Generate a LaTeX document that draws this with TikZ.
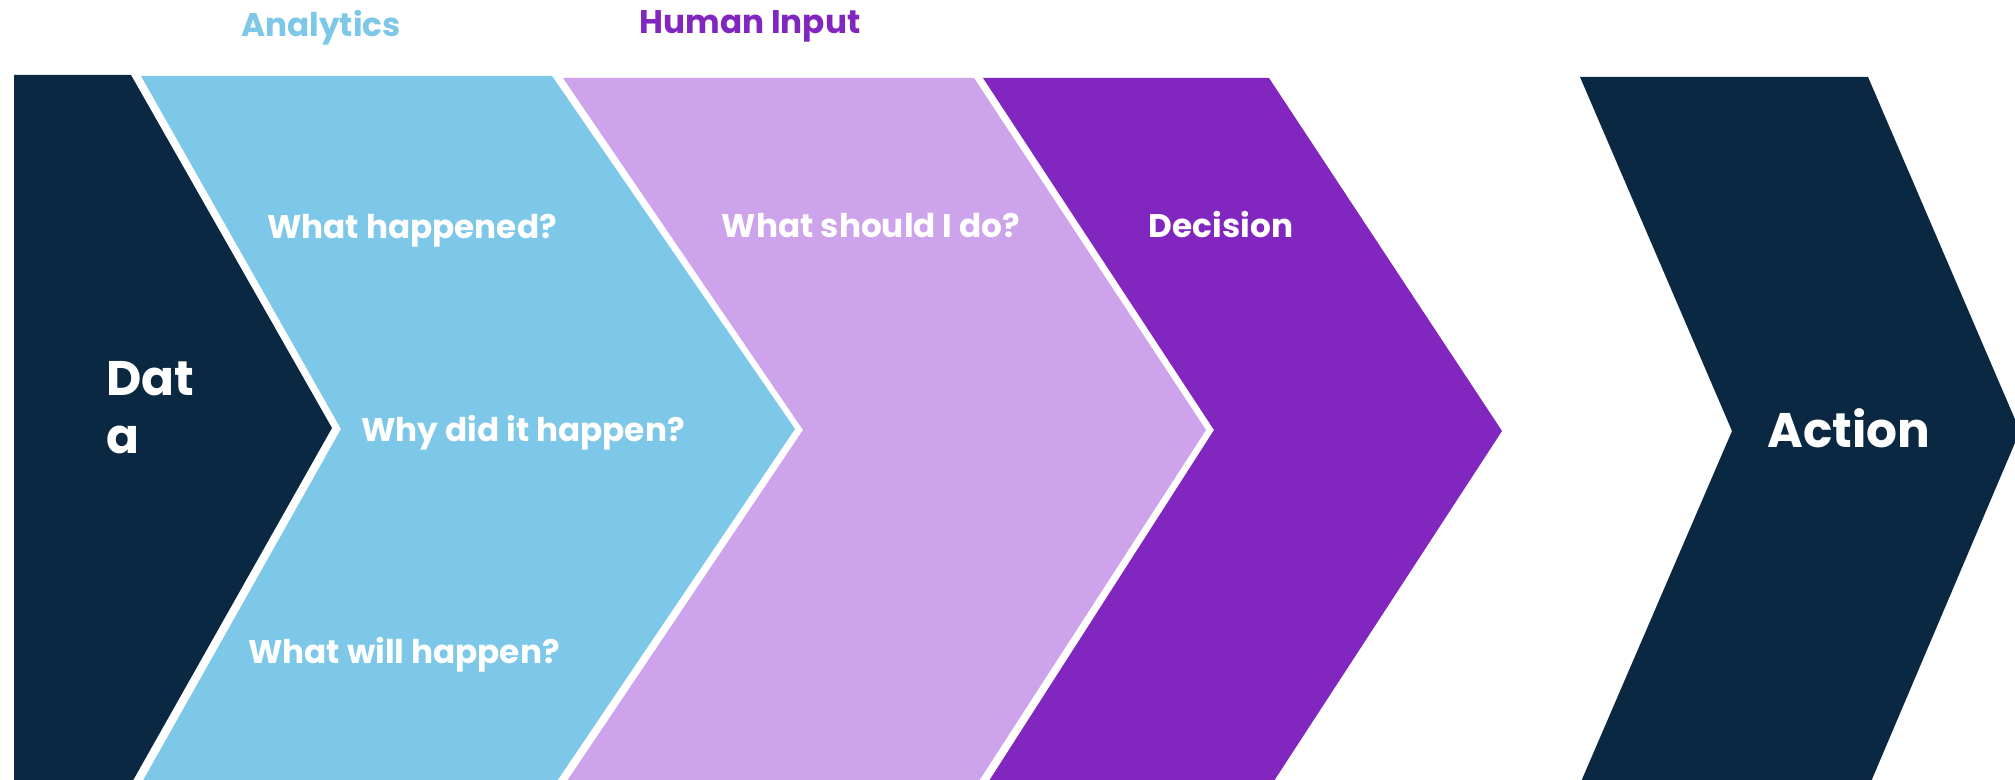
\documentclass[tikz,border=0pt]{standalone}
\usepackage{fontspec}
\setmainfont{Poppins}
\definecolor{navy}{HTML}{0B2843}
\definecolor{lblue}{HTML}{7DC7E8}
\definecolor{lpurple}{HTML}{CDA3EB}
\definecolor{dpurple}{HTML}{8226C0}
\tikzset{
  small/.style={text=white, font=\bfseries\fontsize{9.3}{11}\selectfont, inner sep=0pt, anchor=base},
  big/.style={text=white, font=\bfseries\fontsize{13.8}{16}\selectfont, inner sep=0pt},
  head/.style={font=\bfseries\fontsize{9.3}{11}\selectfont, inner sep=0pt, anchor=base}
}
\begin{document}
\begin{tikzpicture}[x=0.01cm,y=-0.01cm]
\useasboundingbox (0,0) rectangle (2015,780);
\fill[white] (0,0) rectangle (2015,780);
% chevrons
\fill[navy] (14,75) -- (131,75) -- (332,428) -- (131,784) -- (14,784) -- cycle;
\fill[lblue] (141,76) -- (552,76) -- (795,429) -- (555,784) -- (141,784) -- (341,429) -- cycle;
\fill[lpurple] (563,78) -- (974,78) -- (1206,430) -- (977,784) -- (565,784) -- (803,430) -- cycle;
\fill[dpurple] (983,78) -- (1269,78) -- (1502,431) -- (1272,784) -- (987,784) -- (1214,430) -- cycle;
\fill[navy] (1580,77) -- (1868,77) -- (2020,431) -- (1870,784) -- (1580,784) -- (1732,431) -- cycle;
% headings
\node[head, text=lblue] (an) at (321,37) {Analytics};
\node[head, text=dpurple] (hi) at (750,34) {Human Input};
% texts
\node[small] (wh) at (412,239) {What happened?};
\node[small] (ws) at (871,238) {What should I do?};
\node[small] (de) at (1221,238) {Decision};
\node[small] (wy) at (523,442) {Why did it happen?};
\node[small] (ww) at (404,664) {What will happen?};
\node[big, anchor=base west] (d1) at (106,396) {Dat};
\node[big, anchor=base west] (d2) at (106,454) {a};
\node[big, anchor=base] (ac) at (1849,448) {Action};
\end{tikzpicture}
\end{document}
